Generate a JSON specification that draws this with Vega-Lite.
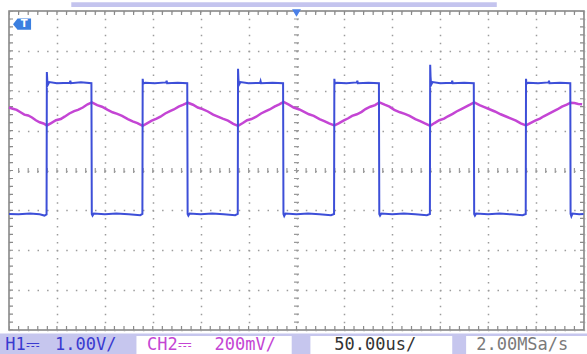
{
  "$schema": "https://vega.github.io/schema/vega-lite/v6.json",
  "width": 575,
  "height": 319,
  "autosize": {"type": "none"},
  "padding": {"left": 9, "top": 11, "right": 3, "bottom": 24},
  "background": "#ffffff",
  "data": {"values": [{}]},
  "config": {
    "view": {"stroke": "#808080", "strokeWidth": 1.5},
    "axisX": {"grid": true, "tickCount": 12, "labels": false, "ticks": false, "domain": false, "title": null, "gridColor": "#9c9c9c", "gridWidth": 1.5, "gridDash": [1.5, 6.475], "gridDashOffset": 0.75},
    "axisY": {"grid": true, "tickCount": 8, "labels": false, "ticks": false, "domain": false, "title": null, "gridColor": "#9c9c9c", "gridWidth": 1.5, "gridDash": [1.5, 8.083], "gridDashOffset": 0.75}
  },
  "datasets": {
    "blue": [
      {"t":-300,"v":-1.09},{"t":-290,"v":-1.1},{"t":-278,"v":-1.08},{"t":-268,"v":-1.1},{"t":-263,"v":-1.13},{"t":-260.8,"v":-1.1},
      {"t":-260.5,"v":2.47},{"t":-260.1,"v":2.28},{"t":-259.5,"v":2.15},{"t":-258,"v":2.22},{"t":-250,"v":2.19},{"t":-236.5,"v":2.2},{"t":-236,"v":2.25},{"t":-235.5,"v":2.19},{"t":-225,"v":2.21},{"t":-214,"v":2.19},
      {"t":-213.6,"v":-1.09},{"t":-212.8,"v":-1.13},{"t":-211.5,"v":-1.08},{"t":-200,"v":-1.1},{"t":-188,"v":-1.08},{"t":-175,"v":-1.1},{"t":-163,"v":-1.12},{"t":-160.8,"v":-1.09},
      {"t":-160.5,"v":2.3},{"t":-160,"v":2.18},{"t":-158,"v":2.2},{"t":-148,"v":2.19},{"t":-136,"v":2.21},{"t":-135.5,"v":2.25},{"t":-135,"v":2.19},{"t":-124,"v":2.2},{"t":-114,"v":2.19},
      {"t":-113.6,"v":-1.09},{"t":-112.8,"v":-1.13},{"t":-111.5,"v":-1.08},{"t":-100,"v":-1.1},{"t":-88,"v":-1.08},{"t":-76,"v":-1.1},{"t":-64,"v":-1.12},{"t":-61.3,"v":-1.09},
      {"t":-61,"v":2.55},{"t":-60.6,"v":2.3},{"t":-60,"v":2.15},{"t":-58.5,"v":2.22},{"t":-50,"v":2.19},{"t":-38,"v":2.2},{"t":-37.5,"v":2.24},{"t":-37,"v":2.19},{"t":-25,"v":2.2},{"t":-14,"v":2.19},
      {"t":-13.6,"v":-1.09},{"t":-12.8,"v":-1.14},{"t":-11.5,"v":-1.08},{"t":0,"v":-1.1},{"t":12,"v":-1.08},{"t":24,"v":-1.1},{"t":36,"v":-1.12},{"t":39.2,"v":-1.09},
      {"t":39.5,"v":2.3},{"t":40,"v":2.18},{"t":42,"v":2.2},{"t":52,"v":2.19},{"t":63,"v":2.21},{"t":63.5,"v":2.25},{"t":64,"v":2.19},{"t":75,"v":2.2},{"t":86,"v":2.19},
      {"t":86.4,"v":-1.09},{"t":87.2,"v":-1.13},{"t":88.5,"v":-1.08},{"t":100,"v":-1.1},{"t":112,"v":-1.08},{"t":124,"v":-1.1},{"t":136,"v":-1.12},{"t":139.2,"v":-1.09},
      {"t":139.5,"v":2.65},{"t":139.9,"v":2.35},{"t":140.5,"v":2.15},{"t":142,"v":2.22},{"t":150,"v":2.19},{"t":162,"v":2.2},{"t":162.5,"v":2.25},{"t":163,"v":2.19},{"t":175,"v":2.2},{"t":185,"v":2.19},
      {"t":185.4,"v":-1.09},{"t":186.2,"v":-1.13},{"t":187.5,"v":-1.08},{"t":200,"v":-1.1},{"t":212,"v":-1.08},{"t":224,"v":-1.1},{"t":236,"v":-1.12},{"t":239.2,"v":-1.09},
      {"t":239.5,"v":2.3},{"t":240,"v":2.18},{"t":242,"v":2.2},{"t":252,"v":2.19},{"t":263,"v":2.21},{"t":263.5,"v":2.25},{"t":264,"v":2.19},{"t":275,"v":2.2},{"t":285.7,"v":2.19},
      {"t":286,"v":-1.09},{"t":286.8,"v":-1.15},{"t":288,"v":-1.08},{"t":295,"v":-1.1},{"t":299.5,"v":-1.09}
    ],
    "pink": [
      {"t":-300,"v":1.58},{"t":-296,"v":1.55},{"t":-292,"v":1.52},{"t":-288,"v":1.46},{"t":-284,"v":1.4},{"t":-280,"v":1.38},{"t":-276,"v":1.33},{"t":-272,"v":1.26},{"t":-268,"v":1.21},{"t":-264,"v":1.18},{"t":-260.5,"v":1.13},
      {"t":-256,"v":1.19},{"t":-251,"v":1.26},{"t":-246,"v":1.29},{"t":-242,"v":1.35},{"t":-237,"v":1.43},{"t":-232,"v":1.49},{"t":-228,"v":1.52},{"t":-223,"v":1.58},{"t":-218,"v":1.66},{"t":-213.5,"v":1.71},
      {"t":-208,"v":1.64},{"t":-203,"v":1.6},{"t":-197,"v":1.52},{"t":-192,"v":1.46},{"t":-187,"v":1.42},{"t":-182,"v":1.37},{"t":-176,"v":1.29},{"t":-171,"v":1.23},{"t":-166,"v":1.19},{"t":-160.5,"v":1.12},
      {"t":-156,"v":1.18},{"t":-151,"v":1.25},{"t":-146,"v":1.3},{"t":-142,"v":1.35},{"t":-137,"v":1.43},{"t":-132,"v":1.49},{"t":-128,"v":1.53},{"t":-123,"v":1.6},{"t":-118,"v":1.65},{"t":-113.5,"v":1.7},
      {"t":-108,"v":1.65},{"t":-103,"v":1.58},{"t":-98,"v":1.54},{"t":-92.5,"v":1.48},{"t":-87,"v":1.4},{"t":-82,"v":1.35},{"t":-77,"v":1.3},{"t":-71.5,"v":1.25},{"t":-66,"v":1.17},{"t":-61,"v":1.12},
      {"t":-56,"v":1.19},{"t":-51.5,"v":1.26},{"t":-47,"v":1.29},{"t":-42,"v":1.35},{"t":-37,"v":1.43},{"t":-32.5,"v":1.48},{"t":-28,"v":1.53},{"t":-23,"v":1.6},{"t":-18,"v":1.66},{"t":-13.5,"v":1.72},
      {"t":-8,"v":1.65},{"t":-3,"v":1.58},{"t":3,"v":1.53},{"t":8,"v":1.47},{"t":13,"v":1.41},{"t":18,"v":1.37},{"t":24,"v":1.29},{"t":29,"v":1.24},{"t":34,"v":1.18},{"t":39.5,"v":1.13},
      {"t":44,"v":1.18},{"t":49,"v":1.25},{"t":54,"v":1.31},{"t":58,"v":1.37},{"t":63,"v":1.41},{"t":68,"v":1.47},{"t":72,"v":1.54},{"t":77,"v":1.6},{"t":82,"v":1.64},{"t":86.5,"v":1.71},
      {"t":92,"v":1.65},{"t":97,"v":1.6},{"t":102,"v":1.52},{"t":108,"v":1.46},{"t":113,"v":1.42},{"t":118,"v":1.37},{"t":124,"v":1.29},{"t":129,"v":1.24},{"t":134,"v":1.18},{"t":139.5,"v":1.12},
      {"t":144,"v":1.19},{"t":149,"v":1.26},{"t":154,"v":1.3},{"t":158,"v":1.36},{"t":163,"v":1.42},{"t":167,"v":1.48},{"t":172,"v":1.54},{"t":176,"v":1.59},{"t":181,"v":1.65},{"t":185.5,"v":1.71},
      {"t":191,"v":1.64},{"t":196,"v":1.59},{"t":202,"v":1.53},{"t":207,"v":1.48},{"t":213,"v":1.41},{"t":218,"v":1.36},{"t":224,"v":1.3},{"t":229,"v":1.25},{"t":234,"v":1.18},{"t":239.5,"v":1.13},
      {"t":244,"v":1.19},{"t":249,"v":1.25},{"t":254,"v":1.3},{"t":258,"v":1.36},{"t":263,"v":1.42},{"t":267,"v":1.47},{"t":272,"v":1.53},{"t":277,"v":1.6},{"t":282,"v":1.65},{"t":286,"v":1.7},
      {"t":290,"v":1.69},{"t":294,"v":1.67},{"t":298,"v":1.66}
    ]
  },
  "layer": [
    {
      "mark": {"type": "rect", "color": "#c6c6ee", "clip": false},
      "encoding": {"x": {"datum": -310}, "x2": {"datum": 305}, "y": {"datum": -4.09}, "y2": {"datum": -4.75}}
    },
    {
      "mark": {"type": "rect", "color": "#ffffff", "clip": false},
      "encoding": {"x": {"datum": -167}, "x2": {"datum": -5}, "y": {"datum": -4.15}, "y2": {"datum": -4.75}}
    },
    {
      "mark": {"type": "rect", "color": "#ffffff", "clip": false},
      "encoding": {"x": {"datum": 14.5}, "x2": {"datum": 162.5}, "y": {"datum": -4.15}, "y2": {"datum": -4.75}}
    },
    {
      "mark": {"type": "rect", "color": "#ffffff", "clip": false},
      "encoding": {"x": {"datum": 177}, "x2": {"datum": 305}, "y": {"datum": -4.15}, "y2": {"datum": -4.75}}
    },
    {
      "mark": {"type": "rect", "color": "#c4c4ee", "clip": false},
      "encoding": {"x": {"datum": -235}, "x2": {"datum": 209}, "y": {"datum": 4.1}, "y2": {"datum": 4.22}}
    },
    {
      "mark": {"type": "rule", "color": "#9a9a9a", "strokeWidth": 5, "strokeDash": [1.2, 6.775], "strokeDashOffset": 0.6},
      "encoding": {"x": {"datum": 0}}
    },
    {
      "mark": {"type": "rule", "color": "#9a9a9a", "strokeWidth": 5, "strokeDash": [1.2, 8.383], "strokeDashOffset": 0.6},
      "encoding": {"y": {"datum": 0}}
    },
    {
      "mark": {"type": "rule", "color": "#8a8a8a", "strokeWidth": 8, "strokeDash": [1.2, 6.775], "strokeDashOffset": 0.6, "clip": true},
      "encoding": {"x": {"datum": -300}}
    },
    {
      "mark": {"type": "rule", "color": "#8a8a8a", "strokeWidth": 8, "strokeDash": [1.2, 6.775], "strokeDashOffset": 0.6, "clip": true},
      "encoding": {"x": {"datum": 300}}
    },
    {
      "mark": {"type": "rule", "color": "#8a8a8a", "strokeWidth": 8, "strokeDash": [1.2, 8.383], "strokeDashOffset": 0.6, "clip": true},
      "encoding": {"y": {"datum": 4}}
    },
    {
      "mark": {"type": "rule", "color": "#8a8a8a", "strokeWidth": 8, "strokeDash": [1.2, 8.383], "strokeDashOffset": 0.6, "clip": true},
      "encoding": {"y": {"datum": -4}}
    },
    {
      "data": {"name": "pink"},
      "mark": {"type": "line", "color": "#c445d4", "strokeWidth": 2.5, "interpolate": "linear"},
      "encoding": {
        "x": {"field": "t", "type": "quantitative", "scale": {"domain": [-300, 300], "nice": false, "zero": false}},
        "y": {"field": "v", "type": "quantitative", "scale": {"domain": [-4, 4], "nice": false, "zero": false}}
      }
    },
    {
      "data": {"name": "blue"},
      "mark": {"type": "line", "color": "#3d4fd8", "strokeWidth": 2, "interpolate": "linear"},
      "encoding": {
        "x": {"field": "t", "type": "quantitative", "scale": {"domain": [-300, 300], "nice": false, "zero": false}},
        "y": {"field": "v", "type": "quantitative", "scale": {"domain": [-4, 4], "nice": false, "zero": false}}
      }
    },
    {
      "mark": {"type": "point", "filled": true, "color": "#3b7fe0", "opacity": 1, "size": 324, "shape": "M -1 0 L -0.5 -0.62 L 1 -0.62 L 1 0.62 L -0.5 0.62 Z", "clip": false},
      "encoding": {"x": {"datum": -286.4}, "y": {"datum": 3.67}}
    },
    {
      "mark": {"type": "text", "text": "T", "color": "#ffffff", "fontSize": 10, "fontWeight": "bold", "font": "DejaVu Sans", "align": "center", "baseline": "middle", "dx": 2, "clip": false},
      "encoding": {"x": {"datum": -286.4}, "y": {"datum": 3.67}}
    },
    {
      "mark": {"type": "point", "filled": true, "color": "#4a80e8", "opacity": 1, "size": 80, "shape": "triangle-down", "yOffset": 2, "clip": false},
      "encoding": {"x": {"datum": 0}, "y": {"datum": 4}}
    },
    {
      "mark": {"type": "text", "text": "H1⎓", "color": "#3a3ad0", "fontSize": 17, "font": "DejaVu Sans Mono", "align": "left", "baseline": "middle", "clip": false},
      "encoding": {"x": {"datum": -304}, "y": {"datum": -4.38}}
    },
    {
      "mark": {"type": "text", "text": "1.00V/", "color": "#3a3ad0", "fontSize": 17, "font": "DejaVu Sans Mono", "align": "left", "baseline": "middle", "clip": false},
      "encoding": {"x": {"datum": -252}, "y": {"datum": -4.38}}
    },
    {
      "mark": {"type": "text", "text": "CH2⎓", "color": "#c445d4", "fontSize": 17, "font": "DejaVu Sans Mono", "align": "left", "baseline": "middle", "clip": false},
      "encoding": {"x": {"datum": -156}, "y": {"datum": -4.38}}
    },
    {
      "mark": {"type": "text", "text": "200mV/", "color": "#c445d4", "fontSize": 17, "font": "DejaVu Sans Mono", "align": "left", "baseline": "middle", "clip": false},
      "encoding": {"x": {"datum": -85.5}, "y": {"datum": -4.38}}
    },
    {
      "mark": {"type": "text", "text": "50.00us/", "color": "#333333", "fontSize": 17, "font": "DejaVu Sans Mono", "align": "left", "baseline": "middle", "clip": false},
      "encoding": {"x": {"datum": 39.5}, "y": {"datum": -4.38}}
    },
    {
      "mark": {"type": "text", "text": "2.00MSa/s", "color": "#7a7a7a", "fontSize": 17, "font": "DejaVu Sans Mono", "align": "left", "baseline": "middle", "clip": false},
      "encoding": {"x": {"datum": 187.5}, "y": {"datum": -4.38}}
    }
  ]
}
